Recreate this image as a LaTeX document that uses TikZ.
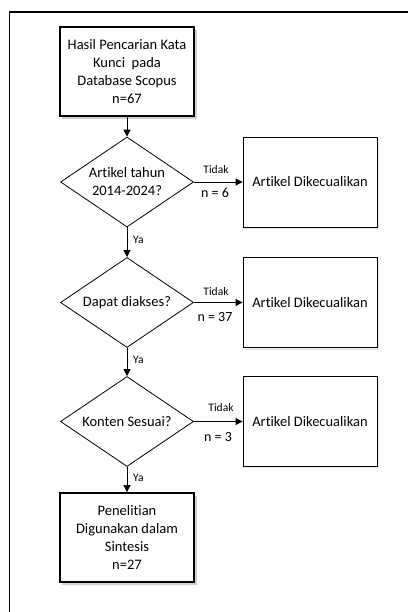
\documentclass[tikz,border=0pt]{standalone}
\usepackage{fontspec}
\setmainfont[Ligatures=NoCommon]{Carlito}
\usetikzlibrary{arrows.meta,shapes.geometric}
\tikzset{
  mainbox/.style={draw=black, line width=1.8pt, fill=white, minimum width=134pt, minimum height=89pt, inner sep=0pt, align=center, font=\fontsize{14.5}{18}\selectfont},
  sidebox/.style={draw=black, line width=0.9pt, fill=white, minimum width=134pt, minimum height=90pt, inner sep=0pt, align=center, font=\fontsize{14.5}{18}\selectfont},
  decision/.style={draw=black, line width=0.8pt, shape=diamond, minimum width=133pt, minimum height=90pt, inner sep=0pt},
  dtext/.style={align=center, font=\fontsize{14.5}{18}\selectfont, inner sep=0pt},
  shade/.style={fill=black!18, draw=none},
  lightshade/.style={fill=black!9, draw=none},
  flow/.style={line width=0.9pt, -{Triangle[length=7pt,width=7pt]}},
  small/.style={font=\fontsize{11.5}{13}\selectfont, inner sep=0pt},
  count/.style={font=\fontsize{14}{16}\selectfont, inner sep=0pt},
  frame/.style={line width=1.5pt}
}
\begin{document}
\begin{tikzpicture}[x=1pt,y=-1pt]
\useasboundingbox (0,0) rectangle (408,612);
% outer frame (cropped)
\draw[frame] (9.5,612) -- (9.5,12) -- (408,12);
% shadows
\fill[shade] (62,30) rectangle (196.5,119);
\fill[shade] (62,496) rectangle (196.5,584.5);
\fill[lightshade] (245,139) rectangle (379,229);
\fill[lightshade] (245,259.5) rectangle (379,350);
\fill[lightshade] (245,379.5) rectangle (379,468);
% nodes
\node[mainbox] (start) at (127,71.5) {Hasil Pencarian Kata\\Kunci\ \ pada\\Database Scopus\\n=67};
\node[decision] (d1) at (127,182) {};
\node[dtext] (t1) at (d1.center) {Artikel tahun\\2014-2024?};
\node[sidebox] (x1) at (310,182) {Artikel Dikecualikan};
\node[decision] (d2) at (127,302.5) {};
\node[dtext] (t2) at (d2.center) {Dapat diakses?};
\node[sidebox] (x2) at (310,302.5) {Artikel Dikecualikan};
\node[decision] (d3) at (127,421.5) {};
\node[dtext] (t3) at (d3.center) {Konten Sesuai?};
\node[sidebox] (x3) at (310,421.5) {Artikel Dikecualikan};
\node[mainbox] (end) at (127,537.5) {Penelitian\\Digunakan dalam\\Sintesis\\n=27};
% connectors
\draw[flow] (start.south) -- (d1.north);
\draw[flow] (d1.south) -- (d2.north);
\draw[flow] (d2.south) -- (d3.north);
\draw[flow] (d3.south) -- (end.north);
\draw[flow] (d1.east) -- (x1.west);
\draw[flow] (d2.east) -- (x2.west);
\draw[flow] (d3.east) -- (x3.west);
% labels
\node[small] (n1t) at (216,170) {Tidak};
\node[count] (n1n) at (215,193) {n = 6};
\node[small] (n2t) at (216,292) {Tidak};
\node[count] (n2n) at (215,317) {n = 37};
\node[small] (n3t) at (221,408) {Tidak};
\node[count] (n3n) at (218,437) {n = 3};
\node[small, anchor=west] (y1) at (133,240) {Ya};
\node[small, anchor=west] (y2) at (133,360) {Ya};
\node[small, anchor=west] (y3) at (133,478) {Ya};
\end{tikzpicture}
\end{document}
